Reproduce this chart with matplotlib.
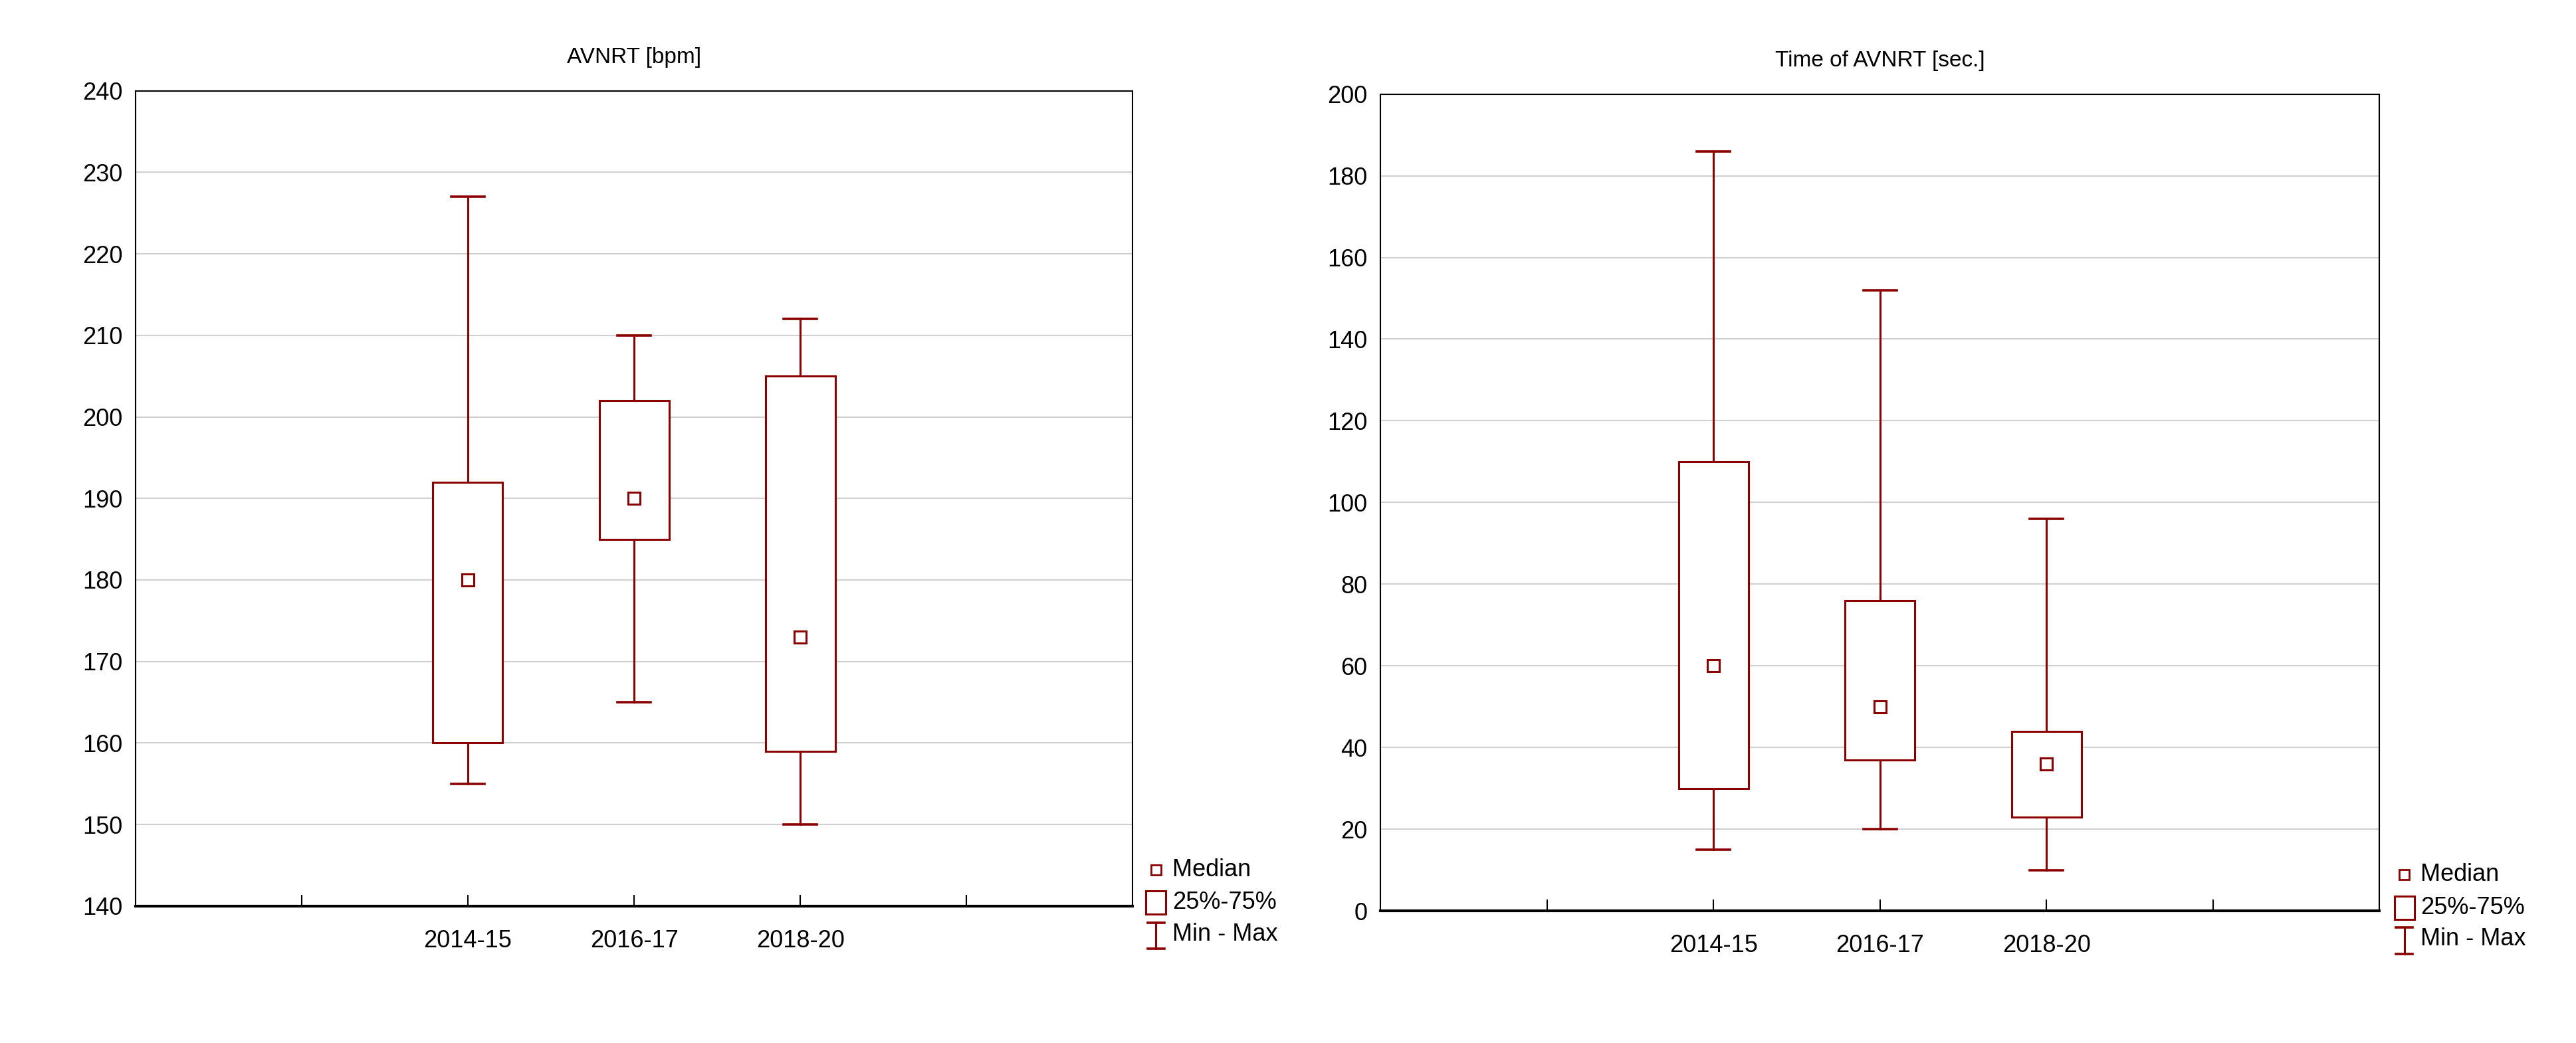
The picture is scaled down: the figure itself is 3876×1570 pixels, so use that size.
import matplotlib
matplotlib.use('Agg')
import matplotlib.pyplot as plt
from matplotlib.patches import Rectangle
from matplotlib.lines import Line2D

plt.rcParams['font.family'] = ['Liberation Sans', 'DejaVu Sans']

CATS = ["2014-15", "2016-17", "2018-20"]

# AVNRT [bpm]
BPM_MIN = [155, 165, 150]
BPM_Q1 = [160, 185, 159]
BPM_MED = [180, 190, 173]
BPM_Q3 = [192, 202, 205]
BPM_MAX = [227, 210, 212]

# Time of AVNRT [sec.]
SEC_MIN = [15, 20, 10]
SEC_Q1 = [30, 37, 23]
SEC_MED = [60, 50, 36]
SEC_Q3 = [110, 76, 44]
SEC_MAX = [186, 152, 96]

RED = "#8B0000"
W = 3876 / 100
H = 1570 / 100
fig = plt.figure(figsize=(W, H), dpi=100, facecolor='white')

def px(x0, y0, x1, y1):
    # displayed coords (1560x632 scale) -> fig fraction
    return [x0 / 1560, 1 - y1 / 632, (x1 - x0) / 1560, (y1 - y0) / 632]

def panel(rect, title, mins, q1s, meds, q3s, maxs, ylim, step, leg_x, leg_y):
    ax = fig.add_axes(rect)
    pos = [2, 3, 4]
    for x, lo, a, m, b, hi in zip(pos, mins, q1s, meds, q3s, maxs):
        ax.add_patch(Rectangle((x - 0.21, a), 0.42, b - a, facecolor='white',
                               edgecolor=RED, linewidth=2.2, zorder=3))
        ax.plot([x, x], [lo, a], color=RED, lw=2.2, zorder=2)
        ax.plot([x, x], [b, hi], color=RED, lw=2.2, zorder=2)
        ax.plot([x - 0.1, x + 0.1], [lo, lo], color=RED, lw=2.6, zorder=2)
        ax.plot([x - 0.1, x + 0.1], [hi, hi], color=RED, lw=2.6, zorder=2)
        ax.plot([x], [m], marker='s', ms=13, mfc='white', mec=RED, mew=2.2,
                zorder=4)
    ax.set_xlim(0, 6)
    ax.set_ylim(*ylim)
    ax.set_xticks([1, 2, 3, 4, 5])
    ax.set_xticklabels(["", *CATS, ""])
    ax.set_yticks(range(ylim[0], ylim[1] + 1, step))
    ax.yaxis.grid(True, color='#d0d0d0', lw=1.5)
    ax.set_axisbelow(True)
    ax.tick_params(axis='x', direction='in', length=12, width=1.5,
                   labelsize=26, pad=25)
    ax.tick_params(axis='y', direction='out', length=0, labelsize=26, pad=14)
    for s in ax.spines.values():
        s.set_linewidth(1.5)
    ax.spines['bottom'].set_linewidth(3)
    ax.set_title(title, fontsize=24, pad=30)

    # legend
    fx = lambda v: v / 1560
    fy = lambda v: 1 - v / 632
    fig.add_artist(Rectangle((fx(leg_x - 3), fy(leg_y + 3)), fx(6), 6 / 632,
                             transform=fig.transFigure, facecolor='white',
                             edgecolor=RED, lw=2))
    fig.add_artist(Rectangle((fx(leg_x - 6), fy(leg_y + 27)), fx(12), 14 / 632,
                             transform=fig.transFigure, facecolor='white',
                             edgecolor=RED, lw=2.2))
    x = fx(leg_x)
    fig.add_artist(Line2D([x, x], [fy(leg_y + 32), fy(leg_y + 48)],
                          transform=fig.transFigure, color=RED, lw=2.2))
    for yy in (leg_y + 32, leg_y + 48):
        fig.add_artist(Line2D([fx(leg_x - 5), fx(leg_x + 5)], [fy(yy), fy(yy)],
                              transform=fig.transFigure, color=RED, lw=2.6))
    for dy, t in ((0, "Median"), (20, "25%-75%"), (39, "Min - Max")):
        fig.text(fx(leg_x + 10), fy(leg_y + dy), t, fontsize=26, va='center')

panel(px(82, 55, 686, 549), "AVNRT [bpm]", BPM_MIN, BPM_Q1, BPM_MED, BPM_Q3,
      BPM_MAX, (140, 240), 10, 700, 527)
panel(px(836, 57, 1441, 552), "Time of AVNRT [sec.]", SEC_MIN, SEC_Q1, SEC_MED,
      SEC_Q3, SEC_MAX, (0, 200), 20, 1456, 530)

fig.savefig("out.png", dpi=100, facecolor='white')
